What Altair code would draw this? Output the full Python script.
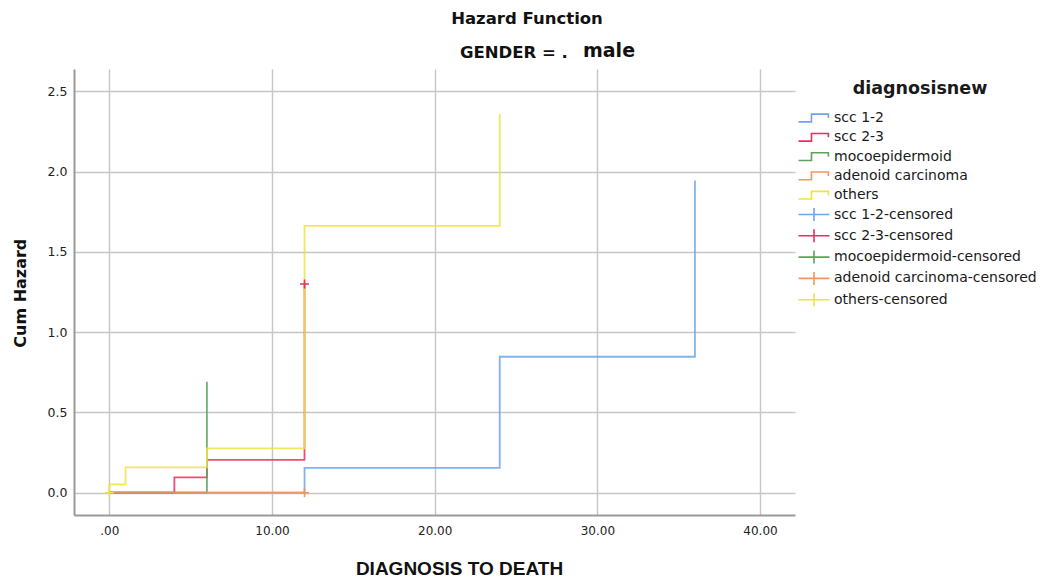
import altair as alt
import pandas as pd

# ---------------- data ----------------
series_names = ["scc 1-2", "scc 2-3", "mocoepidermoid", "adenoid carcinoma", "others"]
censored_names = [n + "-censored" for n in series_names]
series_colors = ["#6fa3ef", "#e5315d", "#5aa55a", "#f7945e", "#eee33f"]

scc12_x = [0, 12, 24, 36]
scc12_y = [0.0, 0.155, 0.847, 1.945]
scc23_x = [0, 4, 6, 12]
scc23_y = [0.0, 0.096, 0.205, 1.30]
moco_x = [0, 6]
moco_y = [0.0, 0.692]
adeno_x = [0, 12]
adeno_y = [0.0, 0.0]
others_x = [0, 0, 1, 6, 12, 24]
others_y = [0.0, 0.052, 0.158, 0.276, 1.663, 2.359]

cens_series = ["others-censored", "adenoid carcinoma-censored", "scc 2-3-censored"]
cens_x = [0, 12, 12]
cens_y = [0.0, 0.0, 1.30]

x_ticks = [0, 10, 20, 30, 40]
x_tick_labels = [".00", "10.00", "20.00", "30.00", "40.00"]
y_ticks = [0, 0.5, 1.0, 1.5, 2.0, 2.5]

# ---------------- tables ----------------
rows = []
for name, xs, ys in zip(series_names,
                        [scc12_x, scc23_x, moco_x, adeno_x, others_x],
                        [scc12_y, scc23_y, moco_y, adeno_y, others_y]):
    for i, (xv, yv) in enumerate(zip(xs, ys)):
        rows.append({"series": name, "x": xv, "y": yv, "order": i})
lines_df = pd.DataFrame(rows)
cens_df = pd.DataFrame({"series": cens_series, "x": cens_x, "y": cens_y})
legend_df = pd.DataFrame({"series": series_names + censored_names})

domain_all = series_names + censored_names
color_range = series_colors + series_colors

step_path = "M-1.72,0.43H-0.28V-0.43H1.6V0"
cross_legend_path = "M-1.72,0H1.72M0,-0.72V0.72"
shape_range = [step_path] * 5 + [cross_legend_path] * 5
cross_plot_path = "M-1,0H1M0,-1V1"

label_expr = "[" + ",".join("'%s'" % s for s in x_tick_labels) + "][indexof([" + \
    ",".join(str(v) for v in x_ticks) + "], datum.value)]"

x_scale = alt.Scale(domain=[-2.17, 42.15], nice=False, zero=False)
y_scale = alt.Scale(domain=[-0.139, 2.64], nice=False, zero=False)

x_axis = alt.Axis(values=x_ticks, labelExpr=label_expr, grid=True, ticks=False,
                  domainColor="#9a9a9a", domainWidth=2, gridColor="#c6c6c6", gridWidth=1.4,
                  labelFont="DejaVu Sans", labelFontSize=12, labelColor="#222222", labelPadding=10.5,
                  title="DIAGNOSIS TO DEATH", titleFont="Liberation Sans", titleFontSize=19,
                  titleFontWeight="bold", titleColor="#111111", titleX=385, titleY=59,
                  titleBaseline="alphabetic", titleAlign="center")
y_axis = alt.Axis(values=y_ticks, format=".1f", grid=True, ticks=False,
                  domainColor="#9a9a9a", domainWidth=2, gridColor="#c6c6c6", gridWidth=1.4,
                  labelFont="DejaVu Sans", labelFontSize=12.5, labelColor="#222222", labelPadding=7,
                  title="Cum Hazard", titleFont="DejaVu Sans", titleFontSize=16,
                  titleFontWeight="bold", titleColor="#111111", titleX=-49, titleY=223.7,
                  titleAngle=-90, titleBaseline="alphabetic", titleAlign="center")

X = alt.X("x:Q", scale=x_scale, axis=x_axis)
Y = alt.Y("y:Q", scale=y_scale, axis=y_axis)
color_scale = alt.Scale(domain=domain_all, range=color_range)

lines = alt.Chart(lines_df).mark_line(
    interpolate="step-after", strokeWidth=1.8, strokeOpacity=0.85
).encode(
    x=X, y=Y,
    color=alt.Color("series:N", scale=color_scale, legend=None),
    order="order:Q",
)

crosses = alt.Chart(cens_df).mark_point(
    shape=cross_plot_path, size=81, filled=False, strokeWidth=1.6, opacity=1
).encode(
    x=X, y=Y,
    color=alt.Color("series:N", scale=color_scale, legend=None),
)

leg = alt.Legend(title="diagnosisnew", orient="none", legendX=730, legendY=11,
                 titleFont="DejaVu Sans", titleFontSize=17.5, titleFontWeight="bold",
                 titleColor="#1a1a1a", titleAnchor="middle", titlePadding=10.5,
                 labelFont="DejaVu Sans", labelFontSize=14, labelColor="#1a1a1a",
                 labelOffset=10, labelLimit=400, symbolStrokeWidth=1.6, symbolSize=324,
                 rowPadding=1.3, padding=0)

legend_layer = alt.Chart(legend_df).transform_filter("false").mark_point(
    filled=False, size=324, strokeWidth=1.6, opacity=1
).encode(
    color=alt.Color("series:N", scale=color_scale, legend=leg),
    shape=alt.Shape("series:N", scale=alt.Scale(domain=domain_all, range=shape_range), legend=leg),
)

title_layer = alt.Chart(pd.DataFrame({"t": ["Hazard Function"]})).mark_text(
    align="center", baseline="alphabetic", font="DejaVu Sans", fontSize=16.5,
    fontWeight="bold", color="#111111"
).encode(x=alt.value(453), y=alt.value(-44.7), text="t:N")

sub1 = alt.Chart(pd.DataFrame({"t": ["GENDER = ."]})).mark_text(
    align="left", baseline="alphabetic", font="DejaVu Sans", fontSize=16.5,
    fontWeight="bold", color="#111111"
).encode(x=alt.value(386), y=alt.value(-11), text="t:N")

sub2 = alt.Chart(pd.DataFrame({"t": ["male"]})).mark_text(
    align="left", baseline="alphabetic", font="DejaVu Sans", fontSize=19,
    fontWeight="bold", color="#111111"
).encode(x=alt.value(509), y=alt.value(-12), text="t:N")

chart = alt.layer(lines, crosses, legend_layer, title_layer, sub1, sub2).resolve_scale(
    color="independent", shape="independent"
).resolve_legend(color="independent", shape="independent").properties(
    width=721, height=446,
    autosize=alt.AutoSizeParams(type="none"),
    padding={"left": 66, "top": 61, "right": 246, "bottom": 62},
).configure_view(stroke=None)

chart.save("out.html", embed_options={"renderer": "svg", "actions": False})
